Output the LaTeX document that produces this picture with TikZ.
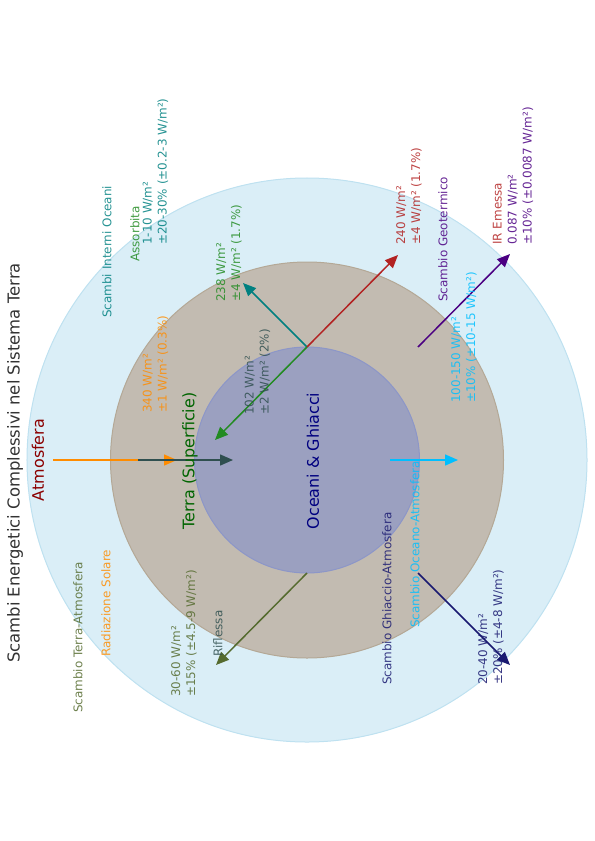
\documentclass[tikz,border=0pt]{standalone}
\usepackage{fontspec}
\setmainfont{DejaVu Sans}
\usetikzlibrary{arrows.meta,shapes.geometric}
\definecolor{atmfill}{RGB}{218,238,247}
\definecolor{atmline}{RGB}{190,225,240}
\definecolor{terfill}{RGB}{194,187,177}
\definecolor{terline}{RGB}{180,168,150}
\definecolor{ocefill}{RGB}{155,160,192}
\definecolor{oceline}{RGB}{140,150,200}
\definecolor{cTitle}{RGB}{51,51,51}
\definecolor{cDarkred}{RGB}{139,0,0}
\definecolor{cDarkgreen}{RGB}{0,100,0}
\definecolor{cNavy}{RGB}{0,0,128}
\definecolor{cOrange}{RGB}{255,140,0}
\definecolor{cTeal}{RGB}{0,128,128}
\definecolor{cForest}{RGB}{34,139,34}
\definecolor{cFire}{RGB}{178,34,34}
\definecolor{cIndigo}{RGB}{75,0,130}
\definecolor{cSky}{RGB}{0,191,255}
\definecolor{cMidnight}{RGB}{25,25,112}
\definecolor{cOlive}{RGB}{85,107,47}
\definecolor{cSlate}{RGB}{47,79,79}
\begin{document}
\begin{tikzpicture}[x=1bp,y=-1bp,
  bigtext/.style={rotate=90,inner sep=0,font=\fontsize{16}{19}\selectfont},
  lbl/.style={rotate=90,inner sep=0,anchor=west,align=left,text opacity=0.85,font=\fontsize{12}{15}\selectfont},
  flow/.style={line width=1.5bp,-{Triangle[length=13bp,width=11bp]}}]
\useasboundingbox (0,0) rectangle (595,841);
% spheres
\node[ellipse,draw=atmline,fill=atmfill,line width=1bp,minimum width=560bp,minimum height=564bp,inner sep=0] (atm) at (307,460) {};
\node[ellipse,draw=terline,fill=terfill,line width=1bp,minimum width=393bp,minimum height=396bp,inner sep=0] (ter) at (307,460) {};
\node[ellipse,draw=oceline,fill=ocefill,line width=1bp,minimum width=225bp,minimum height=226bp,inner sep=0] (oce) at (307,460) {};
% coordinates
\coordinate (sunA) at (53,460);
\coordinate (sunB) at (177,460);
\coordinate (slA) at (138,460);
\coordinate (slB) at (233,460);
\coordinate (top) at (307,347);
\coordinate (bot) at (307,573);
\coordinate (teT) at (243,283);
\coordinate (reT) at (398,255);
\coordinate (grT) at (215,440);
\coordinate (inA) at (418,347);
\coordinate (inB) at (510,254);
\coordinate (skA) at (390,460);
\coordinate (skB) at (458,460);
\coordinate (mnA) at (418,573);
\coordinate (mnB) at (510,665);
\coordinate (olT) at (216,665);
% arrows
\draw[flow,cOrange] (sunA) -- (sunB);
\draw[flow,cSlate] (slA) -- (slB);
\draw[flow,cTeal] (top) -- (teT);
\draw[flow,cFire] (top) -- (reT);
\draw[flow,cForest] (top) -- (grT);
\draw[flow,cIndigo] (inA) -- (inB);
\draw[flow,cSky] (skA) -- (skB);
\draw[flow,cMidnight] (mnA) -- (mnB);
\draw[flow,cOlive] (bot) -- (olT);
% main texts
\node[bigtext,text=cTitle,font=\fontsize{16.5}{19}\selectfont] (title) at (15,463) {Scambi Energetici Complessivi nel Sistema Terra};
\node[bigtext,text=cDarkred] (tatm) at (38,460) {Atmosfera};
\node[bigtext,text=cDarkgreen] (tter) at (190,461) {Terra (Superficie)};
\node[bigtext,text=cNavy] (toce) at (313,461) {Oceani \& Ghiacci};
% labels
\node[lbl,text=cTeal] (l1) at (107,318) {Scambi Interni Oceani};
\node[lbl,text=cForest] (l2) at (135,262) {Assorbita};
\node[lbl,text=cTeal] (l3) at (155.5,245) {1-10 W/m²\\±20-30\% (±0.2-3 W/m²)};
\node[lbl,text=cForest] (l4) at (229,302) {238 W/m²\\±4 W/m² (1.7\%)};
\node[lbl,text=cFire] (l5) at (409,245) {240 W/m²\\±4 W/m² (1.7\%)};
\node[lbl,text=cIndigo] (l6) at (443,302) {Scambio Geotermico};
\node[lbl,text=cIndigo] (l7) at (513,245) {\textcolor{cFire}{IR Emessa}\\0.087 W/m²\\±10\% (±0.0087 W/m²)};
\node[lbl,text=cSky] (l8) at (464,403) {100-150 W/m²\\±10\% (±10-15 W/m²)};
\node[lbl,text=cSky] (l9) at (415,628) {Scambio Oceano-Atmosfera};
\node[lbl,text=cMidnight] (l10) at (387,685) {Scambio Ghiaccio-Atmosfera};
\node[lbl,text=cMidnight] (l11) at (491,685) {20-40 W/m²\\±20\% (±4-8 W/m²)};
\node[lbl,text=cOlive] (l12) at (184,697) {30-60 W/m²\\±15\% (±4.5-9 W/m²)};
\node[lbl,text=cSlate] (l13) at (218,657) {Riflessa};
\node[lbl,text=cOlive] (l14) at (78,713) {Scambio Terra-Atmosfera};
\node[lbl,text=cOrange] (l15) at (106,657) {Radiazione Solare};
\node[lbl,text=cOrange] (l16) at (155.5,413) {340 W/m²\\±1 W/m² (0.3\%)};
\node[lbl,text=cSlate] (l17) at (257.5,415) {102 W/m²\\±2 W/m² (2\%)};
\end{tikzpicture}
\end{document}
